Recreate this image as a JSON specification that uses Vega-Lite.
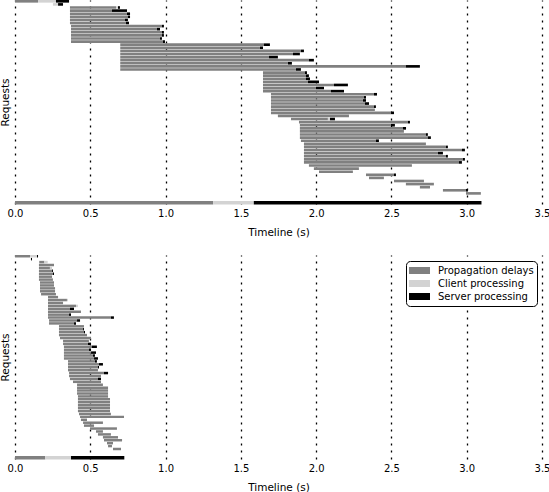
{
  "$schema": "https://vega.github.io/schema/vega-lite/v6.json",
  "padding": 0,
  "background": "white",
  "config": {
    "view": {"stroke": null},
    "font": "DejaVu Sans",
    "axisX": {
      "format": ".1f",
      "grid": true,
      "gridColor": "#000000",
      "gridDash": [2, 5],
      "gridWidth": 1.3,
      "domain": false,
      "ticks": false,
      "labelPadding": 4,
      "labelFontSize": 10,
      "labelColor": "#000000",
      "labelFlush": false,
      "titleFontSize": 10.5,
      "titleFontWeight": "normal",
      "titleColor": "#000000",
      "titlePadding": 9,
      "zindex": 1
    },
    "axisY": {
      "labels": false,
      "ticks": false,
      "domain": false,
      "grid": false,
      "titleFontSize": 10.5,
      "titleFontWeight": "normal",
      "titleColor": "#000000",
      "titlePadding": 5
    }
  },
  "datasets": {
    "bars": [
      {"p":"A","r":0,"k":"P","a":0,"b":0.153},{"p":"A","r":0,"k":"C","a":0.153,"b":0.272},{"p":"A","r":0,"k":"S","a":0.272,"b":0.359},
      {"p":"A","r":1,"k":"C","a":0.252,"b":0.286},{"p":"A","r":1,"k":"S","a":0.286,"b":0.319},
      {"p":"A","r":2,"k":"P","a":0.365,"b":0.671},{"p":"A","r":2,"k":"C","a":0.671,"b":0.684},{"p":"A","r":2,"k":"S","a":0.684,"b":0.697},
      {"p":"A","r":3,"k":"P","a":0.365,"b":0.644},{"p":"A","r":3,"k":"S","a":0.644,"b":0.744},
      {"p":"A","r":4,"k":"P","a":0.365,"b":0.744},{"p":"A","r":4,"k":"S","a":0.744,"b":0.764},
      {"p":"A","r":5,"k":"P","a":0.365,"b":0.750},{"p":"A","r":5,"k":"S","a":0.750,"b":0.764},
      {"p":"A","r":6,"k":"P","a":0.365,"b":0.730},{"p":"A","r":6,"k":"S","a":0.730,"b":0.750},
      {"p":"A","r":7,"k":"P","a":0.365,"b":0.737},{"p":"A","r":7,"k":"S","a":0.737,"b":0.757},
      {"p":"A","r":8,"k":"P","a":0.372,"b":0.976},{"p":"A","r":8,"k":"S","a":0.976,"b":0.989},
      {"p":"A","r":9,"k":"P","a":0.372,"b":0.943},{"p":"A","r":9,"k":"S","a":0.943,"b":0.963},
      {"p":"A","r":10,"k":"P","a":0.372,"b":0.976},{"p":"A","r":10,"k":"S","a":0.976,"b":0.989},
      {"p":"A","r":11,"k":"P","a":0.372,"b":0.976},{"p":"A","r":11,"k":"S","a":0.976,"b":0.989},
      {"p":"A","r":12,"k":"P","a":0.372,"b":0.963},{"p":"A","r":12,"k":"S","a":0.963,"b":0.976},
      {"p":"A","r":13,"k":"P","a":0.372,"b":0.983},{"p":"A","r":13,"k":"S","a":0.983,"b":0.996},
      {"p":"A","r":14,"k":"P","a":0.699,"b":1.653},{"p":"A","r":14,"k":"S","a":1.653,"b":1.693},
      {"p":"A","r":15,"k":"P","a":0.699,"b":1.627},{"p":"A","r":15,"k":"S","a":1.627,"b":1.647},
      {"p":"A","r":16,"k":"P","a":0.699,"b":1.899},{"p":"A","r":16,"k":"S","a":1.899,"b":1.919},
      {"p":"A","r":17,"k":"P","a":0.699,"b":1.846},{"p":"A","r":17,"k":"S","a":1.846,"b":1.892},
      {"p":"A","r":18,"k":"P","a":0.699,"b":1.687},{"p":"A","r":18,"k":"S","a":1.687,"b":1.746},
      {"p":"A","r":19,"k":"P","a":0.699,"b":1.952},{"p":"A","r":19,"k":"S","a":1.952,"b":1.985},
      {"p":"A","r":20,"k":"P","a":0.699,"b":1.813},{"p":"A","r":20,"k":"S","a":1.813,"b":1.839},
      {"p":"A","r":21,"k":"P","a":0.699,"b":2.596},{"p":"A","r":21,"k":"S","a":2.596,"b":2.689},
      {"p":"A","r":22,"k":"P","a":0.699,"b":1.866},{"p":"A","r":22,"k":"S","a":1.866,"b":1.899},
      {"p":"A","r":23,"k":"P","a":1.647,"b":1.926},{"p":"A","r":23,"k":"S","a":1.926,"b":1.939},
      {"p":"A","r":24,"k":"P","a":1.647,"b":1.932},{"p":"A","r":24,"k":"S","a":1.932,"b":1.952},
      {"p":"A","r":25,"k":"P","a":1.647,"b":1.932},{"p":"A","r":25,"k":"S","a":1.932,"b":1.959},
      {"p":"A","r":26,"k":"P","a":1.647,"b":1.946},{"p":"A","r":26,"k":"S","a":1.946,"b":2.019},
      {"p":"A","r":27,"k":"P","a":1.647,"b":2.118},{"p":"A","r":27,"k":"S","a":2.118,"b":2.211},
      {"p":"A","r":28,"k":"P","a":1.647,"b":1.999},{"p":"A","r":28,"k":"S","a":1.999,"b":2.052},
      {"p":"A","r":29,"k":"P","a":1.647,"b":2.098},{"p":"A","r":29,"k":"S","a":2.098,"b":2.185},
      {"p":"A","r":30,"k":"P","a":1.700,"b":2.384},{"p":"A","r":30,"k":"S","a":2.384,"b":2.404},
      {"p":"A","r":31,"k":"P","a":1.700,"b":2.317},{"p":"A","r":31,"k":"S","a":2.317,"b":2.331},
      {"p":"A","r":32,"k":"P","a":1.700,"b":2.311},{"p":"A","r":32,"k":"S","a":2.311,"b":2.331},
      {"p":"A","r":33,"k":"P","a":1.700,"b":2.324},{"p":"A","r":33,"k":"S","a":2.324,"b":2.351},
      {"p":"A","r":34,"k":"P","a":1.700,"b":2.384},{"p":"A","r":34,"k":"S","a":2.384,"b":2.397},
      {"p":"A","r":35,"k":"P","a":1.700,"b":2.390},
      {"p":"A","r":36,"k":"P","a":1.700,"b":2.497},{"p":"A","r":36,"k":"S","a":2.497,"b":2.517},
      {"p":"A","r":37,"k":"P","a":1.746,"b":2.218},
      {"p":"A","r":38,"k":"P","a":1.833,"b":2.078},{"p":"A","r":38,"k":"C","a":2.078,"b":2.092},{"p":"A","r":38,"k":"S","a":2.092,"b":2.125},
      {"p":"A","r":39,"k":"P","a":1.886,"b":2.610},{"p":"A","r":39,"k":"S","a":2.610,"b":2.623},
      {"p":"A","r":40,"k":"P","a":1.892,"b":2.497},{"p":"A","r":40,"k":"S","a":2.497,"b":2.523},
      {"p":"A","r":41,"k":"P","a":1.892,"b":2.576},{"p":"A","r":41,"k":"S","a":2.576,"b":2.597},
      {"p":"A","r":42,"k":"P","a":1.892,"b":2.583},
      {"p":"A","r":43,"k":"P","a":1.892,"b":2.729},{"p":"A","r":43,"k":"S","a":2.729,"b":2.742},
      {"p":"A","r":44,"k":"P","a":1.892,"b":2.742},{"p":"A","r":44,"k":"S","a":2.742,"b":2.762},
      {"p":"A","r":45,"k":"P","a":1.899,"b":2.397},{"p":"A","r":45,"k":"S","a":2.397,"b":2.417},
      {"p":"A","r":46,"k":"P","a":1.919,"b":2.729},
      {"p":"A","r":47,"k":"P","a":1.919,"b":2.862},{"p":"A","r":47,"k":"S","a":2.862,"b":2.875},
      {"p":"A","r":48,"k":"P","a":1.919,"b":2.968},{"p":"A","r":48,"k":"S","a":2.968,"b":2.988},
      {"p":"A","r":49,"k":"P","a":1.919,"b":2.809},{"p":"A","r":49,"k":"S","a":2.809,"b":2.842},
      {"p":"A","r":50,"k":"P","a":1.919,"b":2.862},{"p":"A","r":50,"k":"S","a":2.862,"b":2.875},
      {"p":"A","r":51,"k":"P","a":1.919,"b":2.975},{"p":"A","r":51,"k":"S","a":2.975,"b":2.988},
      {"p":"A","r":52,"k":"P","a":1.919,"b":2.948},{"p":"A","r":52,"k":"S","a":2.948,"b":2.968},
      {"p":"A","r":53,"k":"P","a":1.952,"b":2.636},
      {"p":"A","r":54,"k":"P","a":1.985,"b":2.284},
      {"p":"A","r":55,"k":"P","a":2.019,"b":2.244},
      {"p":"A","r":56,"k":"P","a":2.331,"b":2.517},{"p":"A","r":56,"k":"S","a":2.517,"b":2.530},
      {"p":"A","r":57,"k":"P","a":2.351,"b":2.450},
      {"p":"A","r":58,"k":"P","a":2.517,"b":2.716},
      {"p":"A","r":59,"k":"P","a":2.596,"b":2.782},
      {"p":"A","r":60,"k":"P","a":2.689,"b":2.756},
      {"p":"A","r":61,"k":"P","a":2.842,"b":2.995},{"p":"A","r":61,"k":"S","a":2.995,"b":3.008},
      {"p":"A","r":62,"k":"P","a":2.995,"b":3.094},

      {"p":"B","r":0,"k":"P","a":0,"b":0.100},{"p":"B","r":0,"k":"C","a":0.100,"b":0.146},{"p":"B","r":0,"k":"S","a":0.146,"b":0.153},
      {"p":"B","r":1,"k":"S","a":0.106,"b":0.113},
      {"p":"B","r":2,"k":"P","a":0.161,"b":0.195},{"p":"B","r":2,"k":"C","a":0.195,"b":0.217},
      {"p":"B","r":3,"k":"P","a":0.159,"b":0.259},
      {"p":"B","r":4,"k":"P","a":0.159,"b":0.232},{"p":"B","r":4,"k":"C","a":0.232,"b":0.246},
      {"p":"B","r":5,"k":"P","a":0.159,"b":0.246},{"p":"B","r":5,"k":"S","a":0.246,"b":0.252},
      {"p":"B","r":6,"k":"P","a":0.159,"b":0.252},{"p":"B","r":6,"k":"S","a":0.252,"b":0.259},
      {"p":"B","r":7,"k":"P","a":0.159,"b":0.246},
      {"p":"B","r":8,"k":"P","a":0.159,"b":0.252},
      {"p":"B","r":9,"k":"P","a":0.166,"b":0.259},
      {"p":"B","r":10,"k":"P","a":0.166,"b":0.259},
      {"p":"B","r":11,"k":"P","a":0.166,"b":0.266},
      {"p":"B","r":12,"k":"P","a":0.166,"b":0.266},
      {"p":"B","r":13,"k":"P","a":0.173,"b":0.272},
      {"p":"B","r":14,"k":"P","a":0.219,"b":0.286},
      {"p":"B","r":15,"k":"P","a":0.219,"b":0.345},{"p":"B","r":15,"k":"C","a":0.345,"b":0.352},
      {"p":"B","r":16,"k":"P","a":0.219,"b":0.319},
      {"p":"B","r":17,"k":"P","a":0.219,"b":0.405},{"p":"B","r":17,"k":"C","a":0.405,"b":0.418},
      {"p":"B","r":18,"k":"P","a":0.219,"b":0.365},{"p":"B","r":18,"k":"S","a":0.365,"b":0.392},
      {"p":"B","r":19,"k":"P","a":0.219,"b":0.438},
      {"p":"B","r":20,"k":"P","a":0.219,"b":0.359},{"p":"B","r":20,"k":"S","a":0.359,"b":0.372},
      {"p":"B","r":21,"k":"P","a":0.219,"b":0.637},{"p":"B","r":21,"k":"S","a":0.637,"b":0.657},
      {"p":"B","r":22,"k":"P","a":0.226,"b":0.412},{"p":"B","r":22,"k":"S","a":0.412,"b":0.432},
      {"p":"B","r":23,"k":"P","a":0.226,"b":0.392},{"p":"B","r":23,"k":"S","a":0.392,"b":0.405},
      {"p":"B","r":24,"k":"P","a":0.292,"b":0.458},
      {"p":"B","r":25,"k":"P","a":0.292,"b":0.452},{"p":"B","r":25,"k":"S","a":0.452,"b":0.458},
      {"p":"B","r":26,"k":"P","a":0.292,"b":0.458},{"p":"B","r":26,"k":"S","a":0.458,"b":0.465},
      {"p":"B","r":27,"k":"P","a":0.292,"b":0.478},
      {"p":"B","r":28,"k":"P","a":0.299,"b":0.505},
      {"p":"B","r":29,"k":"P","a":0.319,"b":0.491},
      {"p":"B","r":30,"k":"P","a":0.319,"b":0.485},{"p":"B","r":30,"k":"S","a":0.485,"b":0.505},
      {"p":"B","r":31,"k":"P","a":0.325,"b":0.511},{"p":"B","r":31,"k":"S","a":0.511,"b":0.544},
      {"p":"B","r":32,"k":"P","a":0.325,"b":0.491},{"p":"B","r":32,"k":"S","a":0.491,"b":0.505},
      {"p":"B","r":33,"k":"P","a":0.325,"b":0.505},{"p":"B","r":33,"k":"S","a":0.505,"b":0.538},
      {"p":"B","r":34,"k":"P","a":0.325,"b":0.518},{"p":"B","r":34,"k":"S","a":0.518,"b":0.531},
      {"p":"B","r":35,"k":"P","a":0.325,"b":0.525},{"p":"B","r":35,"k":"S","a":0.525,"b":0.551},
      {"p":"B","r":36,"k":"P","a":0.352,"b":0.531},{"p":"B","r":36,"k":"S","a":0.531,"b":0.544},
      {"p":"B","r":37,"k":"P","a":0.352,"b":0.558},{"p":"B","r":37,"k":"S","a":0.558,"b":0.584},
      {"p":"B","r":38,"k":"P","a":0.352,"b":0.551},{"p":"B","r":38,"k":"S","a":0.551,"b":0.558},
      {"p":"B","r":39,"k":"P","a":0.352,"b":0.551},
      {"p":"B","r":40,"k":"P","a":0.359,"b":0.591},{"p":"B","r":40,"k":"S","a":0.591,"b":0.618},
      {"p":"B","r":41,"k":"P","a":0.359,"b":0.571},
      {"p":"B","r":42,"k":"P","a":0.365,"b":0.551},{"p":"B","r":42,"k":"S","a":0.551,"b":0.571},
      {"p":"B","r":43,"k":"P","a":0.385,"b":0.571},
      {"p":"B","r":44,"k":"P","a":0.412,"b":0.584},
      {"p":"B","r":45,"k":"P","a":0.412,"b":0.618},
      {"p":"B","r":46,"k":"P","a":0.412,"b":0.618},
      {"p":"B","r":47,"k":"P","a":0.412,"b":0.618},
      {"p":"B","r":48,"k":"P","a":0.418,"b":0.618},
      {"p":"B","r":49,"k":"P","a":0.418,"b":0.631},
      {"p":"B","r":50,"k":"P","a":0.418,"b":0.631},
      {"p":"B","r":51,"k":"P","a":0.418,"b":0.631},
      {"p":"B","r":52,"k":"P","a":0.418,"b":0.631},
      {"p":"B","r":53,"k":"P","a":0.418,"b":0.631},
      {"p":"B","r":54,"k":"P","a":0.425,"b":0.637},
      {"p":"B","r":55,"k":"P","a":0.432,"b":0.724},
      {"p":"B","r":56,"k":"P","a":0.438,"b":0.478},
      {"p":"B","r":57,"k":"P","a":0.452,"b":0.584},
      {"p":"B","r":58,"k":"P","a":0.458,"b":0.525},
      {"p":"B","r":59,"k":"P","a":0.498,"b":0.677},
      {"p":"B","r":60,"k":"P","a":0.538,"b":0.584},
      {"p":"B","r":61,"k":"P","a":0.551,"b":0.637},
      {"p":"B","r":62,"k":"P","a":0.584,"b":0.684},
      {"p":"B","r":63,"k":"P","a":0.591,"b":0.711},
      {"p":"B","r":64,"k":"P","a":0.611,"b":0.651},
      {"p":"B","r":65,"k":"P","a":0.618,"b":0.644},
      {"p":"B","r":66,"k":"P","a":0.651,"b":0.704}
    ],
    "summary": [
      {"p":"A","r":65,"k":"P","a":0,"b":1.316},{"p":"A","r":65,"k":"C","a":1.316,"b":1.586},{"p":"A","r":65,"k":"S","a":1.586,"b":3.098},
      {"p":"B","r":69,"k":"P","a":0,"b":0.201},{"p":"B","r":69,"k":"C","a":0.201,"b":0.372},{"p":"B","r":69,"k":"S","a":0.372,"b":0.726}
    ]
  },
  "spacing": 17,
  "resolve": {"scale": {"y": "independent"}, "legend": {"color": "independent"}},
  "vconcat": [
    {
      "width": 527,
      "height": 204,
      "layer": [
        {
          "data": {"name": "bars"},
          "transform": [{"filter": "datum.p == 'A'"}],
          "mark": {"type": "bar"},
          "encoding": {
            "y": {"field": "r", "type": "ordinal", "axis": {"title": "Requests"},
              "scale": {"domain": [0,1,2,3,4,5,6,7,8,9,10,11,12,13,14,15,16,17,18,19,20,21,22,23,24,25,26,27,28,29,30,31,32,33,34,35,36,37,38,39,40,41,42,43,44,45,46,47,48,49,50,51,52,53,54,55,56,57,58,59,60,61,62,63,64,65], "paddingInner": 0.15, "paddingOuter": 0}},
            "x": {"field": "a", "type": "quantitative", "scale": {"domain": [0, 3.5], "nice": false, "zero": false}, "axis": {"title": "Timeline (s)", "values": [0, 0.5, 1, 1.5, 2, 2.5, 3, 3.5]}},
            "x2": {"field": "b"},
            "color": {"field": "k", "type": "nominal", "scale": {"domain": ["P", "C", "S"], "range": ["#808080", "#d3d3d3", "#000000"]}, "legend": null}
          }
        },
        {
          "data": {"name": "summary"},
          "transform": [{"filter": "datum.p == 'A'"}],
          "mark": {"type": "rule", "strokeWidth": 3.5},
          "encoding": {
            "y": {"field": "r", "type": "ordinal", "bandPosition": 0.5},
            "x": {"field": "a", "type": "quantitative"},
            "x2": {"field": "b"},
            "color": {"field": "k", "type": "nominal", "legend": null}
          }
        }
      ]
    },
    {
      "width": 527,
      "height": 204,
      "layer": [
        {
          "data": {"name": "bars"},
          "transform": [{"filter": "datum.p == 'B'"}],
          "mark": {"type": "bar"},
          "encoding": {
            "y": {"field": "r", "type": "ordinal", "axis": {"title": "Requests"},
              "scale": {"domain": [0,1,2,3,4,5,6,7,8,9,10,11,12,13,14,15,16,17,18,19,20,21,22,23,24,25,26,27,28,29,30,31,32,33,34,35,36,37,38,39,40,41,42,43,44,45,46,47,48,49,50,51,52,53,54,55,56,57,58,59,60,61,62,63,64,65,66,67,68,69], "paddingInner": 0.15, "paddingOuter": 0}},
            "x": {"field": "a", "type": "quantitative", "scale": {"domain": [0, 3.5], "nice": false, "zero": false}, "axis": {"title": "Timeline (s)", "values": [0, 0.5, 1, 1.5, 2, 2.5, 3, 3.5]}},
            "x2": {"field": "b"},
            "color": {"field": "k", "type": "nominal",
              "scale": {"domain": ["P", "C", "S"], "range": ["#808080", "#d3d3d3", "#000000"]},
              "legend": {
                "orient": "none", "legendX": 391, "legendY": 6,
                "title": null,
                "labelExpr": "datum.label == 'P' ? 'Propagation delays' : datum.label == 'C' ? 'Client processing' : 'Server processing'",
                "strokeColor": "#000000", "cornerRadius": 4, "fillColor": "#ffffff",
                "padding": 3,
                "symbolType": "M-1,-0.33H1V0.33H-1Z", "symbolSize": 441, "symbolStrokeWidth": 0,
                "clipHeight": 13, "rowPadding": 0,
                "labelFontSize": 10, "labelColor": "#000000", "labelOffset": 8
              }
            }
          }
        },
        {
          "data": {"name": "summary"},
          "transform": [{"filter": "datum.p == 'B'"}],
          "mark": {"type": "rule", "strokeWidth": 3.5},
          "encoding": {
            "y": {"field": "r", "type": "ordinal", "bandPosition": 0.5},
            "x": {"field": "a", "type": "quantitative"},
            "x2": {"field": "b"},
            "color": {"field": "k", "type": "nominal", "legend": null}
          }
        }
      ]
    }
  ]
}
